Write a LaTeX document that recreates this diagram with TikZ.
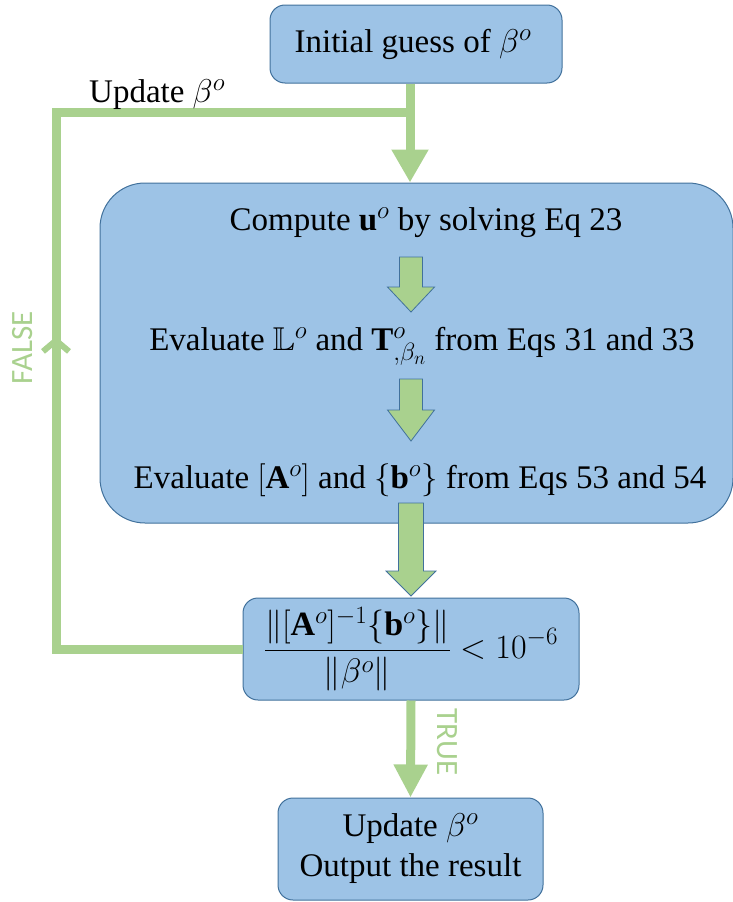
\RequirePackage{fix-cm}
\documentclass[tikz,border=0pt]{standalone}
\usepackage{amsmath,amssymb}
\usepackage{fontspec}
\setmainfont{Liberation Serif}
\newfontfamily\labelfont{Carlito}
\DeclareMathSizes{33}{33}{25}{19}
\DeclareMathSizes{34}{34}{25}{19}
\usetikzlibrary{arrows.meta,decorations.markings}
\definecolor{boxfill}{HTML}{9DC3E6}
\definecolor{boxline}{HTML}{41719C}
\definecolor{flow}{HTML}{A9D18E}
\newcommand\blockarrow[6]{%
  \filldraw[blk] (#1-#5,#2) -- (#1+#5,#2) -- (#1+#5,#3) -- (#1+#6,#3) -- (#1,#4)
    -- (#1-#6,#3) -- (#1-#5,#3) -- cycle;}
\begin{document}
\begin{tikzpicture}[x=1pt,y=-1pt,
  box/.style={draw=boxline, line width=1pt, fill=boxfill, rounded corners=15pt, inner sep=0pt},
  txt/.style={font=\fontsize{33}{40}\selectfont, inner sep=0pt},
  flowline/.style={draw=flow, line width=9pt},
  blk/.style={fill=flow, draw=boxline, line width=0.8pt, line join=miter},
  tf/.style={text=flow, inner sep=0pt, font=\labelfont\fontsize{31}{31}\selectfont}]
\useasboundingbox (0,0) rectangle (733,902);

% boxes
\node[box, minimum width=292, minimum height=78] (init) at (416,44) {};
\node[txt] (initt) at (413,44) {Initial guess of $\beta^{o}$};
\node[box, rounded corners=45pt, minimum width=633, minimum height=340] (main) at (416.5,353) {};
\node[box, minimum width=336, minimum height=102, font=\fontsize{34}{40}\selectfont] (cond) at (411,649)
  {$\displaystyle\frac{\|[\mathbf{A}^{o}]^{-1}\{\mathbf{b}^{o}\}\|}{\|\beta^{o}\|}<10^{-6}$};
\node[box, minimum width=265, minimum height=102, txt, align=center] (out) at (410.5,849)
  {Update $\beta^{o}$\\Output the result};

% text lines in main box
\node[txt, anchor=base] (l1) at (426,230) {Compute $\mathbf{u}^{o}$ by solving Eq 23};
\node[txt, anchor=base] (l2) at (422,350) {Evaluate $\mathbb{L}^{o}$ and $\mathbf{T}^{o}_{,\beta_n}$ from Eqs 31 and 33};
\node[txt, anchor=base] (l3) at (420,488) {Evaluate $[\mathbf{A}^{o}]$ and $\{\mathbf{b}^{o}\}$ from Eqs 53 and 54};

% block arrows
\blockarrow{411}{257}{287}{312}{11.5}{23.5}
\blockarrow{411}{379}{410}{441}{11.5}{23.5}
\blockarrow{411}{503}{571}{596}{12.5}{25}

% flow lines
\coordinate (j) at (410,112);
\draw[flowline, -{Triangle[length=33pt,width=35pt]}] (init.south -| j) -- (main.north -| j);
\draw[flowline, line join=miter, postaction={decorate},
  decoration={markings, mark=at position 499pt with {\arrow{Straight Barb[length=11pt,width=26pt,line width=6pt]}}}]
  (cond.west) -- (56,649) -- (56,112) -- (j);
\draw[flowline, -{Triangle[length=33pt,width=32pt]}] (cond.south) -- (out.north);

% labels
\node[txt, anchor=base west] (upd) at (89,102) {Update $\beta^{o}$};
\node[tf, rotate=90] (fl) at (23,348) {FALSE};
\node[tf, rotate=-90] (tl) at (447.5,742) {TRUE};
\end{tikzpicture}
\end{document}
